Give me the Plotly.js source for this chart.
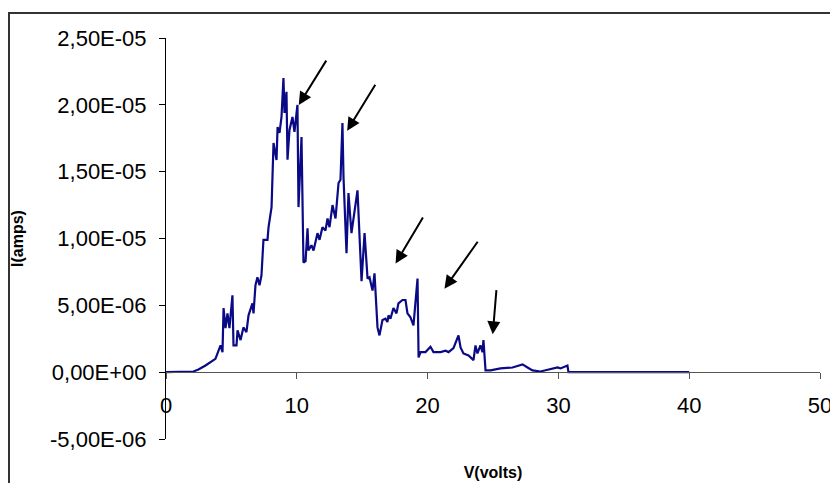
<!DOCTYPE html>
<html>
<head>
<meta charset="utf-8">
<script src="https://cdn.plot.ly/plotly-3.0.1.min.js"></script>
<style>
  html, body { margin: 0; padding: 0; background: #fff; }
  #wrap { position: relative; width: 830px; height: 483px; overflow: hidden; }
  #chart { position: absolute; left: 0; top: 0; width: 830px; height: 483px; }
  #frame { position: absolute; left: 8px; top: 12px; width: 900px; height: 600px;
           border-left: 2px solid #333; border-top: 2px solid #333; pointer-events: none; }
</style>
</head>
<body>
<div id="wrap">
  <div id="chart"></div>
  <div id="frame"></div>
</div>
<script>
// Voltage (V) and current (A, in units of 1e-6)
const voltage = [
  0, 1.1, 2.1, 2.48, 3.02, 3.78, 4.17, 4.32, 4.40, 4.55, 4.70, 4.85, 5.08, 5.16, 5.39, 5.47,
  5.70, 5.92, 6.15, 6.31, 6.61, 6.69, 6.84, 6.99, 7.15, 7.30, 7.45, 7.76, 7.84, 8.07, 8.22,
  8.45, 8.53, 8.68, 8.83, 8.98, 9.06, 9.21, 9.29, 9.44, 9.67, 9.82, 10.05, 10.13, 10.36, 10.51,
  10.67, 10.82, 10.89, 11.12, 11.28, 11.58, 11.74, 11.96, 12.19, 12.35, 12.50, 12.73, 12.96,
  13.19, 13.34, 13.49, 13.57, 13.80, 13.95, 14.18, 14.64, 14.95, 15.18, 15.41, 15.56, 15.79,
  15.94, 16.17, 16.32, 16.55, 16.78, 16.93, 17.01, 17.16, 17.39, 17.62, 17.77, 18.08, 18.31,
  18.46, 18.69, 18.92, 19.23, 19.31, 19.46, 19.84, 20.22, 20.45, 20.99, 21.37, 21.60, 21.98,
  22.36, 22.52, 22.74, 23.13, 23.51, 23.66, 23.81, 24.04, 24.20, 24.27, 24.43, 24.81, 25.57,
  26.49, 27.26, 27.64, 28.02, 28.63, 29.40, 29.93, 30.16, 30.69, 30.77, 35.5, 40
];
const currentMicro = [
  0, 0, 0.05, 0.2, 0.5, 1.0, 2.0, 1.5, 4.8, 3.3, 4.4, 3.3, 5.75, 2.0, 2.0, 3.13,
  2.4, 3.35, 3.0, 4.25, 5.15, 4.4, 6.5, 7.1, 6.5, 7.25, 9.9, 9.9, 10.85, 12.35, 17.14,
  15.87, 18.34, 17.9, 19.09, 22.0, 19.39, 20.97, 15.9, 18.12, 19.09, 17.97, 19.99, 12.35, 17.59, 8.2,
  8.3, 10.77, 9.1, 9.5, 9.1, 10.4, 9.9, 10.85, 10.6, 11.5, 10.85, 12.5, 11.5,
  14.15, 14.4, 18.64, 14.6, 8.9, 13.4, 10.4, 13.6, 6.8, 10.4, 7.0, 7.1, 6.1,
  7.4, 3.35, 2.75, 3.9, 4.0, 3.75, 4.25, 4.0, 4.8, 4.4, 5.15, 5.4, 5.4,
  4.4, 4.1, 3.5, 7.0, 1.1, 1.5, 1.5, 1.9, 1.5, 1.5, 1.6, 1.5, 1.8,
  2.75, 1.85, 1.4, 1.25, 0.9, 2.0, 1.4, 2.0, 1.5, 2.4, 0.13, 0.13, 0.28,
  0.35, 0.58, 0.35, 0.13, 0.05, 0.2, 0.35, 0.28, 0.5, 0, 0, 0
];
const current = currentMicro.map(v => v * 1e-6);

// Axis ticks
const xTickVals = [0, 10, 20, 30, 40, 50];
const yTickVals = [-5e-6, 0, 5e-6, 1e-5, 1.5e-5, 2e-5, 2.5e-5];
const yTickText = ['-5,00E-06', '0,00E+00', '5,00E-06', '1,00E-05', '1,50E-05', '2,00E-05', '2,50E-05'];

// Arrows: head (tip) and tail points, in data units (current in 1e-6 A)
const arrowHeadX = [10.15, 13.85, 17.55, 21.29, 24.98];
const arrowHeadY = [19.99, 18.07, 8.13, 6.25, 2.83];
const arrowTailX = [12.32, 16.07, 19.71, 23.91, 25.27];
const arrowTailY = [23.42, 21.62, 11.69, 9.87, 6.25];

const annotations = arrowHeadX.map((hx, i) => ({
  x: hx, y: arrowHeadY[i] * 1e-6,
  ax: arrowTailX[i], ay: arrowTailY[i] * 1e-6,
  xref: 'x', yref: 'y', axref: 'x', ayref: 'y',
  text: '', showarrow: true,
  arrowhead: 2, arrowsize: 1.3, arrowwidth: 2, arrowcolor: '#000'
}));

const trace = {
  x: voltage, y: current, type: 'scatter', mode: 'lines',
  line: { color: '#0a0a86', width: 2.2 },
  hoverinfo: 'skip'
};

const font = 'Liberation Sans, Arial, sans-serif';

const layout = {
  width: 830, height: 483,
  margin: { l: 166, r: 10, t: 38, b: 44, pad: 0 },
  paper_bgcolor: '#fff', plot_bgcolor: '#fff',
  showlegend: false,
  font: { family: font, color: '#000' },
  xaxis: {
    range: [0, 50], tickvals: xTickVals, ticktext: xTickVals.map(String),
    anchor: 'free', position: 1 / 6,
    showline: true, linecolor: '#555', linewidth: 1,
    ticks: 'outside', ticklen: 6, tickcolor: '#555', tickwidth: 1,
    showgrid: false, zeroline: false,
    tickfont: { family: font, size: 22, color: '#000' },
    ticklabelstandoff: 7,
    ticklabeloverflow: 'allow',
    title: { text: '<b>V(volts)</b>', font: { family: font, size: 16, color: '#000' }, standoff: 50 }
  },
  yaxis: {
    range: [-5e-6, 2.5e-5], tickvals: yTickVals, ticktext: yTickText,
    showline: true, linecolor: '#000', linewidth: 1,
    ticks: 'outside', ticklen: 6, tickcolor: '#000', tickwidth: 1,
    showgrid: false, zeroline: false,
    tickfont: { family: font, size: 22, color: '#000' },
    ticklabelstandoff: 8,
    title: { text: '<b>I(amps)</b>', font: { family: font, size: 16, color: '#000' }, standoff: 22 }
  },
  annotations: annotations
};

Plotly.newPlot('chart', [trace], layout, { staticPlot: true, displayModeBar: false });
</script>
</body>
</html>
